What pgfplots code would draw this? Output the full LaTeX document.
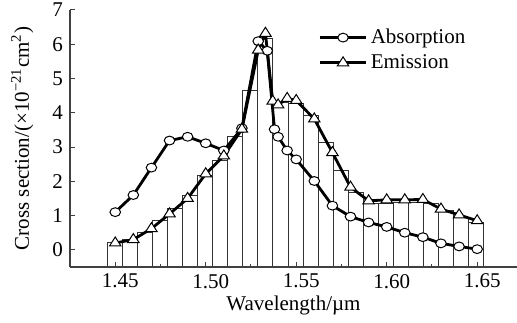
\documentclass[border=0pt]{standalone}
\usepackage{fontspec}
\setmainfont{Liberation Serif}
\usepackage{pgfplots}
\pgfplotsset{compat=1.18}
\begin{document}
\begin{tikzpicture}[font=\fontsize{10.5}{12.6}\selectfont]
% histogram bars (own overlay axis so that bars start at the bottom spine)
\begin{axis}[name=bars, scale only axis, width=223.5pt, height=128.5pt,
  xmin=1.425, xmax=1.672, ymin=0, ymax=7.5, hide axis,
  y filter/.expression={y+0.5}]
\addplot[ybar interval, draw=black!80, fill=white, line width=0.5pt] coordinates {
(1.4457,0.22) (1.4540,0.30) (1.4623,0.50) (1.4707,0.85) (1.4790,1.20)
(1.4873,1.60) (1.4956,2.17) (1.5039,2.62) (1.5122,3.30) (1.5205,4.65)
(1.5288,6.17) (1.5371,4.30) (1.5455,4.28) (1.5538,3.92) (1.5621,3.12)
(1.5704,2.31) (1.5787,1.67) (1.5870,1.36) (1.5953,1.36) (1.6036,1.37)
(1.6119,1.38) (1.6203,1.36) (1.6286,1.15) (1.6369,0.94) (1.6452,0.79)
(1.6535,0.79)};
\end{axis}
\begin{axis}[name=ax, at={(bars.south west)}, anchor=south west,
  scale only axis, width=223.5pt, height=128.5pt,
  xmin=1.425, xmax=1.672, ymin=-0.5, ymax=7,
  axis x line=bottom, axis y line=left,
  axis line style={-, black!75, line width=0.6pt},
  xtick={1.45,1.50,1.55,1.60,1.65},
  xticklabels={1.45,1.50,1.55,1.60,1.65},
  minor xtick={1.475,1.525,1.575,1.625},
  ytick={0,1,2,3,4,5,6,7},
  tick align=inside, major tick length=2.5pt, minor tick length=1.5pt,
  tick style={black!75, line width=0.5pt},
  /pgf/number format/assume math mode=true,
  xticklabel style={xshift=2.5pt},
  xlabel={Wavelength/\textmu m},
  ylabel={Cross section/(×10\textsuperscript{−21}cm\textsuperscript{2})},
  xlabel style={at={(axis description cs:0.5,-0.148)}, anchor=center},
  ylabel style={at={(axis description cs:-0.107,0.5)}, anchor=center},
  legend image code/.code={\draw[#1, mark repeat=2, mark phase=2] plot coordinates {(0cm,0cm) (0.41cm,0cm) (0.82cm,0cm)};},
  legend style={at={(axis cs:1.562,6.55)}, anchor=north west, draw=none, fill=none,
    inner sep=0pt, row sep=1pt, nodes={inner sep=1.5pt}},
  legend cell align=left,
  clip=false]
\addplot[black, line width=1.4pt, mark=*, mark size=2.2pt,
  mark options={fill=white, draw=black, line width=0.5pt, xscale=1.2}] coordinates {
(1.45,1.10) (1.46,1.60) (1.47,2.40) (1.48,3.19) (1.49,3.30) (1.50,3.11)
(1.51,2.90) (1.52,3.55) (1.529,6.09) (1.534,5.81) (1.538,3.52) (1.540,3.30)
(1.545,2.90) (1.55,2.64) (1.56,2.01) (1.57,1.29) (1.58,0.97) (1.59,0.80)
(1.60,0.67) (1.61,0.50) (1.62,0.37) (1.63,0.19) (1.64,0.10) (1.65,0.02)};
\addlegendentry{Absorption}
\addplot[black, line width=1.4pt, mark=triangle*, mark size=3pt,
  mark options={fill=white, draw=black, line width=0.5pt, xscale=1.1}] coordinates {
(1.45,0.20) (1.46,0.30) (1.47,0.62) (1.48,1.05) (1.49,1.50) (1.50,2.22)
(1.51,2.74) (1.52,3.52) (1.529,5.83) (1.533,6.32) (1.537,4.34) (1.540,4.23)
(1.545,4.42) (1.55,4.36) (1.56,3.82) (1.57,2.84) (1.58,1.83) (1.59,1.43)
(1.60,1.46) (1.61,1.46) (1.62,1.47) (1.63,1.19) (1.64,1.02) (1.65,0.85)};
\addlegendentry{Emission}
\end{axis}
\pgfresetboundingbox
\path ([shift={(-35pt,-28pt)}]ax.south west) rectangle ([shift={(0pt,5pt)}]ax.north east);
\end{tikzpicture}
\end{document}
